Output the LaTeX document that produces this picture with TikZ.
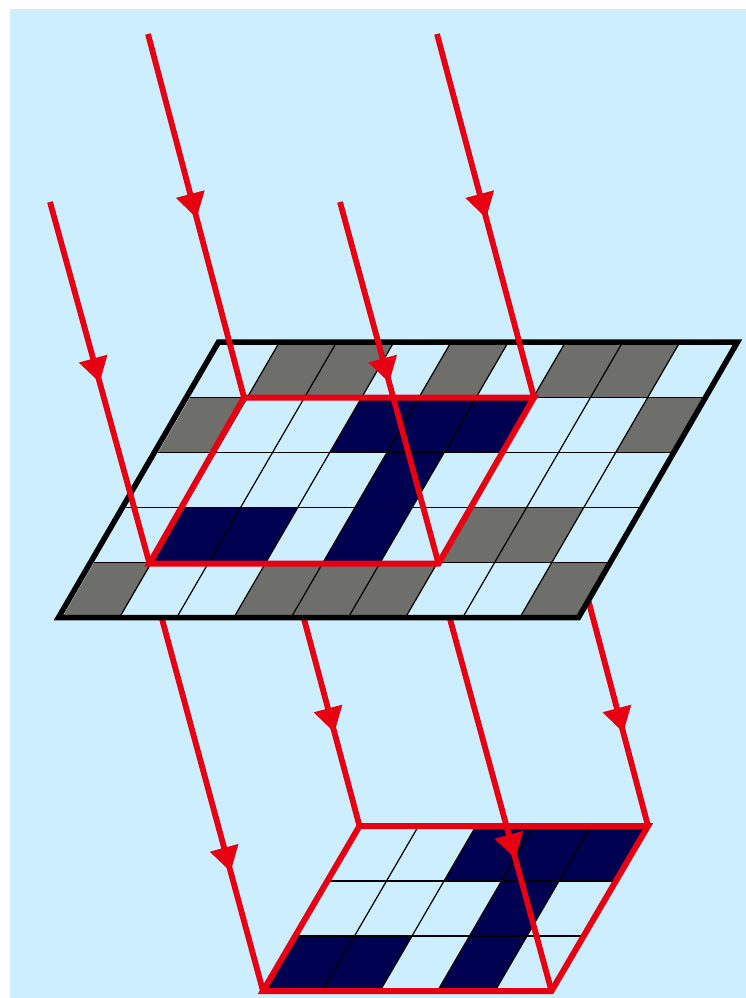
\documentclass[tikz,border=0pt]{standalone}
\usetikzlibrary{arrows.meta,decorations.markings}
\definecolor{sky}{HTML}{CDEEFF}
\definecolor{rayred}{HTML}{E60012}
\definecolor{navycell}{HTML}{000050}
\definecolor{greycell}{HTML}{6E6F6B}
\tikzset{
  ray/.style={draw=rayred,line width=5.8pt,line cap=butt},
  plane/.style={line width=6pt,line join=miter,draw=rayred},
  sheet/.style={line width=5.5pt,line join=miter,draw=black},
  gridline/.style={line width=1.2pt,draw=black},
  headat/.style={postaction={decorate},decoration={markings,
    mark=at position #1 with {\arrow{Triangle[length=25pt,width=28pt]}}}},
  darkcell/.style={fill=navycell},
  dullcell/.style={fill=greycell},
}
\newcommand{\cellat}[3]{\fill[#1] (#2,#3) -- ++(1,0) -- ++(0,1) -- ++(-1,0) -- cycle;}
\begin{document}
\begin{tikzpicture}[x=1pt,y=-1pt]
\useasboundingbox (0,0) rectangle (746,998);
\fill[white] (0,0) rectangle (746,998);
\fill[sky] (10,9) rectangle (746,998);

% named corners
\coordinate (sA) at (58.5,617.5);
\coordinate (sB) at (578.5,617.5);
\coordinate (sC) at (737.5,342);
\coordinate (sD) at (218.5,342);
\coordinate (wA) at (149.5,563.5);
\coordinate (wB) at (438.5,563.5);
\coordinate (wC) at (534,397.5);
\coordinate (wD) at (244,397.5);
\coordinate (lA) at (263,991);
\coordinate (lB) at (551.5,991);
\coordinate (lC) at (648,826);
\coordinate (lD) at (359.5,826);
\coordinate (r1) at (148,34);
\coordinate (r2) at (437,34);
\coordinate (r3) at (50,202);
\coordinate (r4) at (340,202);
\coordinate (o1) at (162,619);
\coordinate (o2) at (304,619);
\coordinate (o3) at (450,619);
\coordinate (o4) at (588.5,601);

% upper sheet cells
\begin{scope}[shift={(62.3,617.5)},x={(57.2pt,0pt)},y={(32pt,55.1pt)}]
  \foreach \i/\j in {1/4,2/4,4/4,6/4,7/4,0/3,8/3,6/1,7/1,0/0,3/0,4/0,5/0,8/0}
    {\cellat{dullcell}{\i}{\j}}
  \foreach \i/\j in {3/3,4/3,5/3,4/2,1/1,2/1,4/1}
    {\cellat{darkcell}{\i}{\j}}
  \foreach \j in {1,...,4} \draw[gridline] (0,\j) -- (9,\j);
  \foreach \i in {1,...,8} \draw[gridline] (\i,0) -- (\i,5);
\end{scope}

% lower sheet cells
\begin{scope}[shift={(265,991)},x={(57.5pt,0pt)},y={(32pt,55pt)}]
  \foreach \i/\j in {2/2,3/2,4/2,3/1,0/0,1/0,3/0}
    {\cellat{darkcell}{\i}{\j}}
  \foreach \j in {1,2} \draw[gridline] (0,\j) -- (5,\j);
  \foreach \i in {1,...,4} \draw[gridline] (\i,0) -- (\i,3);
\end{scope}

% outgoing rays
\draw[plane] (lA) -- (lB) -- (lC) -- (lD) -- cycle;
\draw[ray,headat=0.68] (o1) -- (lA);
\draw[ray,headat=0.549] (o2) -- (lD);
\draw[ray,headat=0.645] (o3) -- (lB);
\draw[ray,headat=0.585] (o4) -- (lC);

% sheet frame, selection window
\draw[sheet] (sA) -- (sB) -- (sC) -- (sD) -- cycle;
\draw[plane] (wA) -- (wB) -- (wC) -- (wD) -- cycle;

% incoming rays
\draw[ray,headat=0.507] (r1) -- (wD);
\draw[ray,headat=0.507] (r2) -- (wC);
\draw[ray,headat=0.50] (r3) -- (wA);
\draw[ray,headat=0.50] (r4) -- (wB);
\end{tikzpicture}
\end{document}
